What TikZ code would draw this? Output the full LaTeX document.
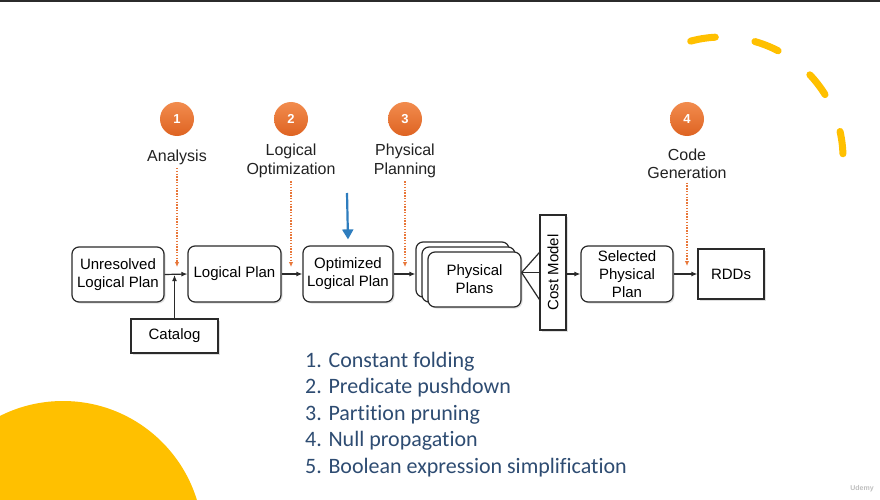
\documentclass[tikz,border=0pt]{standalone}
\usepackage{fontspec}
\setmainfont{Liberation Sans}
\newfontfamily\listfont[Ligatures={NoCommon,NoRequired,NoContextual}]{Carlito}
\usetikzlibrary{arrows.meta,shadows,calc}
\definecolor{yel}{HTML}{FFC000}
\definecolor{orng}{HTML}{E8773A}
\definecolor{orngtop}{HTML}{F28C4E}
\definecolor{orngbot}{HTML}{DE6322}
\definecolor{boxline}{HTML}{2A2A2A}
\definecolor{labtext}{HTML}{222222}
\definecolor{listc}{HTML}{2E4C72}
\definecolor{bluea}{HTML}{2E7DBE}
\definecolor{topbar}{HTML}{2B2B2B}
\begin{document}
\begin{tikzpicture}[x=1pt,y=-1pt,
  box/.style={draw=boxline, line width=1.2pt, fill=white, rounded corners=7pt, align=center,
    font=\fontsize{15}{18}\selectfont, inner sep=0pt,
    drop shadow={shadow xshift=1.5pt, shadow yshift=-1.5pt, opacity=0.25}},
  sbox/.style={box, rounded corners=0pt},
  num/.style={circle, minimum size=34pt, inner sep=0pt, top color=orngtop, bottom color=orngbot,
    text=white, font=\bfseries\fontsize{13}{13}\selectfont},
  lab/.style={align=center, font=\fontsize{16}{18.5}\selectfont, text=labtext},
  flow/.style={-{Latex[length=6pt,width=5pt]}, line width=1.2pt, draw=boxline},
  dotarrow/.style={-{Latex[length=5pt,width=4.5pt]}, draw=orng, line width=1.2pt, dash pattern=on 1.4pt off 1.4pt},
  bluearrow/.style={-{Triangle[length=10pt,width=11pt]}, draw=bluea, line width=2.2pt},
  li/.style={anchor=base west, font=\listfont\fontsize{22}{26}\selectfont, text=listc, inner sep=0pt}]

\useasboundingbox (0,0) rectangle (880,500);
\clip (0,0) rectangle (880,500);
\fill[white] (0,0) rectangle (880,500);
\fill[topbar] (0,0) rectangle (880,2.5);

% decorations
\fill[yel] (63,541) circle[radius=140];
\draw[yel, line width=7pt, line cap=round, dash pattern=on 25pt off 40pt]
  plot[domain=105:2, samples=80] ({722+121*cos(\x)},{158-121*sin(\x)});

% step markers
\node[num] (n1) at (177,119) {1};
\node[num] (n2) at (291,119) {2};
\node[num] (n3) at (405,119) {3};
\node[num] (n4) at (687,119) {4};

\node[lab] (lab1) at (177,157) {Analysis};
\node[lab] (lab2) at (291,161) {Logical\\Optimization};
\node[lab] (lab3) at (405,161) {Physical\\Planning};
\node[lab] (lab4) at (687,164) {Code\\Generation};

% boxes
\node[box, minimum width=92pt, minimum height=55pt] (unres) at (118,274.5) {Unresolved\\Logical Plan};
\node[box, minimum width=93pt, minimum height=56pt] (lp) at (234.5,274) {Logical Plan};
\node[box, minimum width=90pt, minimum height=56pt] (opt) at (348,274) {Optimized\\Logical Plan};
\node[box, minimum width=93pt, minimum height=55pt] (pp3) at (462.5,269.5) {};
\node[box, minimum width=93pt, minimum height=55pt] (pp2) at (468.5,274.5) {};
\node[box, minimum width=93pt, minimum height=55pt] (pp1) at (474.5,279.5) {Physical\\Plans};
\node[sbox, minimum width=26pt, minimum height=115pt] (cost) at (553,272.5) {\rotatebox{90}{Cost Model}};
\node[box, minimum width=92pt, minimum height=56pt] (sel) at (627,274) {Selected\\Physical\\Plan};
\node[sbox, minimum width=66pt, minimum height=50pt] (rdd) at (731,274) {RDDs};
\node[sbox, minimum width=87pt, minimum height=34pt] (cat) at (174.5,336) {Catalog};

% flow connectors
\draw[flow] (unres.east) -- (lp.west);
\draw[flow, shorten >=0.5pt] (cat.north) -- (cat.north |- unres.east);
\draw[flow] (lp.east) -- (opt.west);
\draw[flow] (opt.east) -- (opt.east -| pp3.west);
\coordinate (fan) at (pp1.east |- cost.west);
\draw[line width=1.2pt, draw=boxline] (fan) -- ([yshift=20pt]cost.west);
\draw[line width=1.2pt, draw=boxline] (fan) -- (cost.west);
\draw[line width=1.2pt, draw=boxline] (fan) -- ([yshift=-27pt]cost.west);
\draw[flow] (cost.east |- sel.west) -- (sel.west);
\draw[flow] (sel.east) -- (rdd.west);

% orange dotted phase pointers
\coordinate (d1) at (177,267);
\coordinate (d2) at (291,267);
\coordinate (d3) at (405,267);
\coordinate (d4) at (687,266);
\draw[dotarrow] (lab1.south) -- (d1);
\draw[dotarrow] (lab2.south) -- (d2);
\draw[dotarrow] (lab3.south) -- (d3);
\draw[dotarrow] (lab4.south) -- (d4);

% blue arrow
\coordinate (b0) at (347,193);
\draw[bluearrow] (b0) -- ([yshift=6pt]opt.north);

% list
\node[li] (l1) at (305,367) {1. Constant folding};
\node[li] (l2) at (305,393.5) {2. Predicate pushdown};
\node[li] (l3) at (305,420) {3. Partition pruning};
\node[li] (l4) at (305,446.5) {4. Null propagation};
\node[li] (l5) at (305,473) {5. Boolean expression simplification};

\node[text=black!25, font=\bfseries\fontsize{7}{7}\selectfont] (wm) at (862,489) {Udemy};
\end{tikzpicture}
\end{document}
